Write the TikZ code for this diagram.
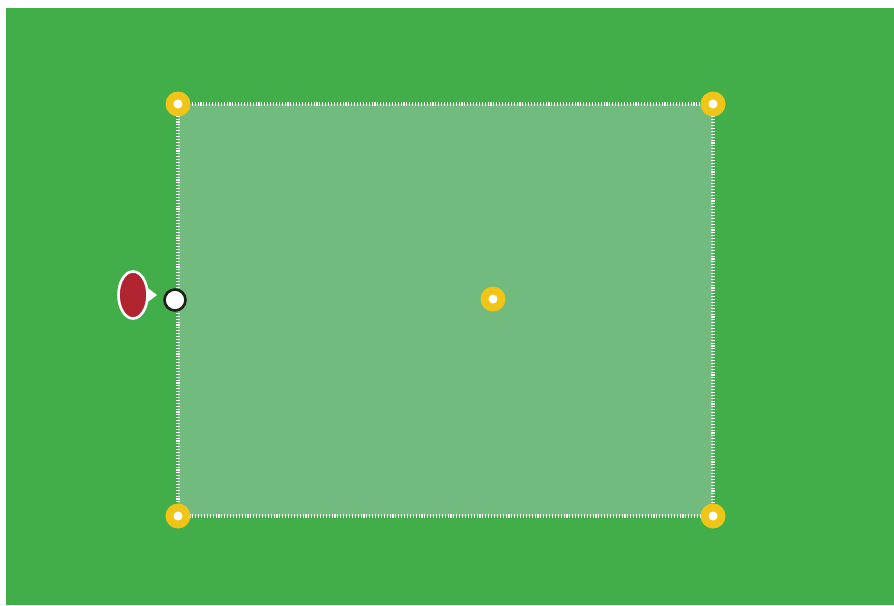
\documentclass[tikz,border=0pt]{standalone}
\usetikzlibrary{shapes.geometric}
\definecolor{bggreen}{HTML}{41AE4A}
\definecolor{lightgreen}{HTML}{70BB7D}
\definecolor{handleyellow}{HTML}{F1C518}
\definecolor{pinred}{HTML}{B02530}
\definecolor{darkring}{HTML}{1E1E1E}
\tikzset{
  handle/.style={circle, fill=handleyellow, minimum size=25pt, inner sep=0pt},
  handledot/.style={circle, fill=white, minimum size=9pt, inner sep=0pt},
  anchorpt/.style={circle, fill=white, draw=darkring, line width=2.6pt, minimum size=21pt, inner sep=0pt},
  pin/.style={ellipse, fill=pinred, draw=white, line width=2.6pt, minimum width=29pt, minimum height=47pt, inner sep=0pt},
  tickborder/.style={draw=white, line width=4pt, dash pattern=on 1.1pt off 1.8pt},
}
\begin{document}
\begin{tikzpicture}[x=1pt,y=-1pt]
\useasboundingbox (0,0) rectangle (894,605);
\fill[white] (0,0) rectangle (894,605);
\fill[bggreen] (6,8) rectangle (894,605);
\fill[lightgreen] (178,104) rectangle (713,516);
\draw[tickborder] (178,104) rectangle (713,516);
\foreach \n/\x/\y in {tl/178/104, tr/713/104, bl/178/516, br/713/516, c/493/299}{
  \node[handle] (h\n) at (\x,\y) {};
  \node[handledot] at (h\n) {};
}
\node[anchorpt] (a) at (175,300) {};
\node[pin] (p) at (133,295) {};
\fill[white] (146.5,287) -- (157,295) -- (146.5,303) -- cycle;
\end{tikzpicture}
\end{document}
